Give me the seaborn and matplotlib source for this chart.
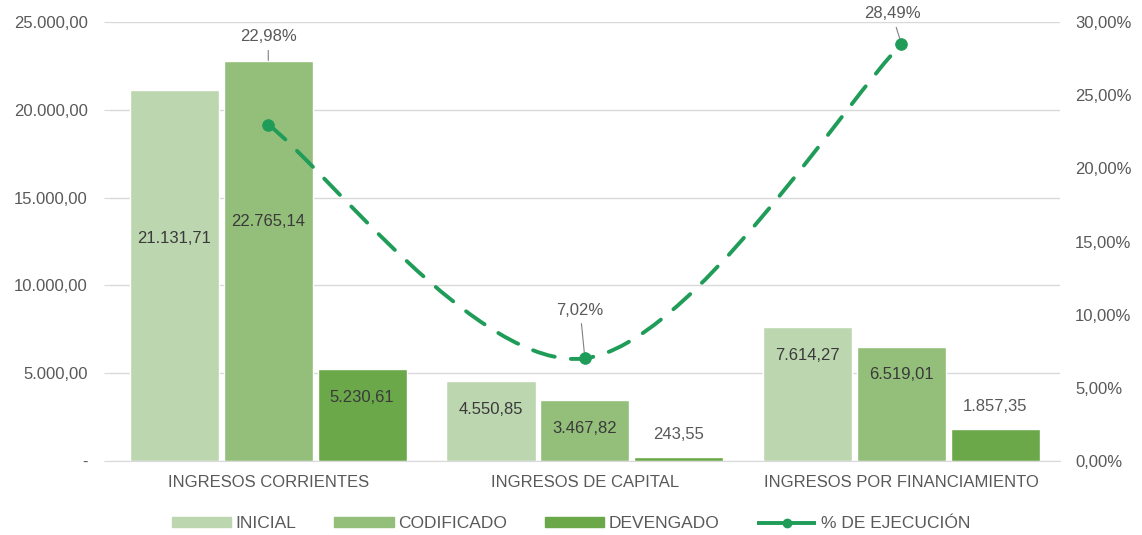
import pandas as pd
import matplotlib.pyplot as plt
import seaborn as sns
import numpy as np
from matplotlib.path import Path
from matplotlib.patches import PathPatch, Patch
from matplotlib.lines import Line2D


categorias = ["INGRESOS CORRIENTES", "INGRESOS DE CAPITAL", "INGRESOS POR FINANCIAMIENTO"]
series = ["INICIAL", "CODIFICADO", "DEVENGADO"]
inicial = [21131.71, 4550.85, 7614.27]
codificado = [22765.14, 3467.82, 6519.01]
devengado = [5230.61, 243.55, 1857.35]
ejecucion = [22.98, 7.02, 28.49]

colores = ["#bcd6b0", "#93bf7a", "#6aa84a"]
verde_linea = "#1f9c58"
gris = "#595959"
fs = 12


def fmt_num(v):
    s = f"{v:,.2f}"
    return s.replace(",", "X").replace(".", ",").replace("X", ".")


def fmt_pct(v):
    return f"{v:.2f}%".replace(".", ",")


df = pd.DataFrame({
    "Categoria": categorias * 3,
    "Serie": [s for s in series for _ in categorias],
    "Valor": inicial + codificado + devengado,
})

sns.set_style("white")
plt.rcParams['font.family'] = ['Liberation Sans', 'DejaVu Sans']

fig, ax = plt.subplots(figsize=(11.42, 5.35), dpi=100)
fig.subplots_adjust(left=0.0963, right=0.928, top=0.959, bottom=0.138)

sns.barplot(df, x="Categoria", y="Valor", hue="Serie", palette=colores,
            width=0.89, gap=0.05, saturation=1, ax=ax, legend=False, zorder=2)

ax.set_ylim(0, 25000)
ax.set_xlim(-0.5, 2.5)
ax.set_yticks(np.arange(0, 25001, 5000))
ax.set_yticklabels(["-"] + [fmt_num(v) for v in np.arange(5000, 25001, 5000)])
ax.yaxis.grid(True, color="#d9d9d9", linewidth=1)
ax.set_axisbelow(True)
ax.set_xlabel("")
ax.set_ylabel("")
for s in ["top", "right", "left"]:
    ax.spines[s].set_visible(False)
ax.spines["bottom"].set_color("#d9d9d9")
ax.tick_params(axis="y", colors=gris, labelsize=fs, length=4, width=0.8, color="#d9d9d9", pad=12)
ax.tick_params(axis="x", colors=gris, labelsize=fs, length=0, pad=10)

# etiquetas de barras
for cont in ax.containers:
    for rect in cont:
        h = rect.get_height()
        xc = rect.get_x() + rect.get_width() / 2
        if h > 15000:
            ax.text(xc, h * 0.6, fmt_num(h), ha="center", va="center", fontsize=fs, color="#3a3a3a")
        elif h > 3000:
            ax.text(xc, h - 1600, fmt_num(h), ha="center", va="center", fontsize=fs, color="#3a3a3a")
        else:
            ax.text(xc, h + 1250, fmt_num(h), ha="center", va="center", fontsize=fs, color=gris)

# eje secundario
ax2 = ax.twinx()
ax2.set_ylim(0, 30)
ax2.set_yticks(np.arange(0, 31, 5))
ax2.set_yticklabels([fmt_pct(v) for v in np.arange(0, 31, 5)])
ax2.tick_params(axis="y", colors=gris, labelsize=fs, length=0, pad=11)
for s in ["top", "right", "left", "bottom"]:
    ax2.spines[s].set_visible(False)

# curva suavizada (bezier tipo excel)
xs = np.arange(len(ejecucion), dtype=float)
pts = np.column_stack([xs, ejecucion])
verts = [pts[0]]
codes = [Path.MOVETO]
n = len(pts)
for i in range(n - 1):
    p0 = pts[max(i - 1, 0)]
    p1 = pts[i]
    p2 = pts[i + 1]
    p3 = pts[min(i + 2, n - 1)]
    verts += [p1 + (p2 - p0) / 6, p2 - (p3 - p1) / 6, p2]
    codes += [Path.CURVE4] * 3
estilo = (0, (5.8, 4.2))
curva = PathPatch(Path(verts, codes), fill=False, edgecolor=verde_linea, linewidth=2.8,
                  linestyle=estilo, capstyle="round", zorder=3)
ax2.add_patch(curva)
sns.scatterplot(x=xs, y=ejecucion, color=verde_linea, s=70, edgecolor=verde_linea, ax=ax2, zorder=4)

# etiquetas de la linea (en ax, bajo las barras, para que el guia se oculte)
dx = [0.0, -0.015, -0.03]
dy = [6.0, 3.3, 2.06]
for i, v in enumerate(ejecucion):
    ax.annotate(fmt_pct(v), xy=(xs[i], v), xycoords=ax2.transData,
                xytext=(xs[i] + dx[i], v + dy[i]), textcoords=ax2.transData,
                ha="center", va="center", fontsize=fs, color=gris, zorder=1.5,
                arrowprops=dict(arrowstyle="-", color="#808080", lw=0.8, shrinkA=2, shrinkB=0))

handles = [Patch(color=c, label=l) for c, l in zip(colores, series)]
handles.append(Line2D([0], [0], color=verde_linea, lw=2.8, linestyle=(0, (6.8, 1.6)),
                      marker="o", markersize=6, label="% DE EJECUCIÓN"))
fig.legend(handles=handles, loc="lower center", bbox_to_anchor=(0.5, -0.022), ncol=4,
           frameon=False, fontsize=12.5, labelcolor=gris, handlelength=3.4, handleheight=0.45,
           columnspacing=2.2, handletextpad=0.25)

fig.savefig("out.png", dpi=100)
